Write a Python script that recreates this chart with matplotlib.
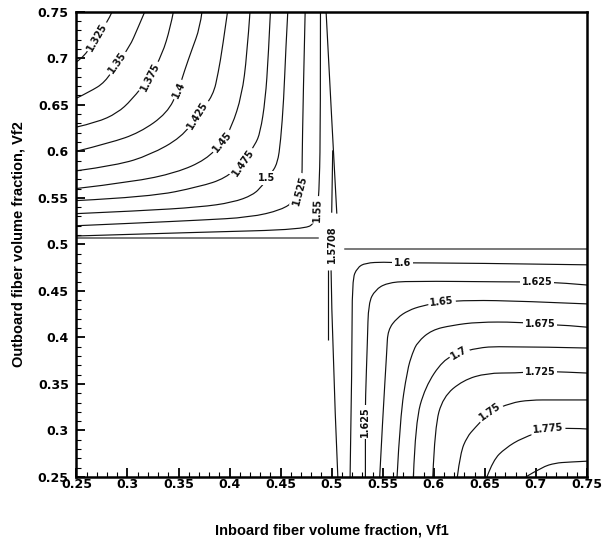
import matplotlib
matplotlib.use("Agg")
import matplotlib.pyplot as plt
from matplotlib.path import Path
from matplotlib.patches import PathPatch
from matplotlib.ticker import FixedLocator, MultipleLocator

plt.rcParams['font.family'] = ['Liberation Sans', 'DejaVu Sans']

# ---------------- data ----------------
# Upper-left region (Vf1 < 0.5, Vf2 > 0.5): iso-lines, data units
c1325_x = [0.250, 0.258, 0.270, 0.280, 0.285]
c1325_y = [0.696, 0.702, 0.723, 0.738, 0.750]
c1350_x = [0.250, 0.263, 0.278, 0.290, 0.302, 0.310, 0.317]
c1350_y = [0.657, 0.664, 0.674, 0.695, 0.712, 0.732, 0.750]
c1375_x = [0.250, 0.270, 0.290, 0.304, 0.322, 0.334, 0.342, 0.345]
c1375_y = [0.626, 0.631, 0.641, 0.655, 0.680, 0.704, 0.733, 0.750]
c1400_x = [0.250, 0.283, 0.312, 0.339, 0.350, 0.356, 0.363, 0.371, 0.373]
c1400_y = [0.600, 0.609, 0.620, 0.641, 0.666, 0.687, 0.709, 0.733, 0.750]
c1425_x = [0.250, 0.290, 0.322, 0.353, 0.369, 0.384, 0.389, 0.393, 0.398]
c1425_y = [0.579, 0.585, 0.596, 0.615, 0.639, 0.660, 0.685, 0.711, 0.750]
c1450_x = [0.250, 0.305, 0.348, 0.377, 0.393, 0.402, 0.412, 0.417, 0.420]
c1450_y = [0.560, 0.567, 0.577, 0.591, 0.610, 0.626, 0.660, 0.703, 0.750]
c1475_x = [0.250, 0.322, 0.371, 0.396, 0.413, 0.425, 0.430, 0.435, 0.438, 0.440]
c1475_y = [0.547, 0.551, 0.562, 0.571, 0.588, 0.607, 0.620, 0.655, 0.703, 0.750]
c1500_x = [0.250, 0.312, 0.371, 0.403, 0.423, 0.432, 0.440, 0.447, 0.450, 0.453, 0.455, 0.457]
c1500_y = [0.533, 0.536, 0.540, 0.545, 0.553, 0.563, 0.575, 0.587, 0.611, 0.655, 0.709, 0.750]
c1525_x = [0.250, 0.312, 0.371, 0.420, 0.451, 0.464, 0.469, 0.471, 0.471, 0.472, 0.474]
c1525_y = [0.520, 0.523, 0.526, 0.529, 0.537, 0.547, 0.558, 0.574, 0.587, 0.655, 0.750]
c1550_x = [0.250, 0.371, 0.474, 0.484, 0.486, 0.488, 0.489, 0.489]
c1550_y = [0.509, 0.513, 0.516, 0.524, 0.537, 0.564, 0.634, 0.750]

# pi/2 (1.5708) boundary pieces
c1571a_x = [0.250, 0.487]
c1571a_y = [0.507, 0.507]
c1571b_x = [0.4945, 0.500, 0.505]
c1571b_y = [0.750, 0.634, 0.533]
c1571c_x = [0.501, 0.500]
c1571c_y = [0.601, 0.534]
c1571d_x = [0.4964, 0.4964]
c1571d_y = [0.472, 0.397]
c1571e_x = [0.4994, 0.5003, 0.506]
c1571e_y = [0.472, 0.397, 0.250]
c1571f_x = [0.513, 0.750]
c1571f_y = [0.495, 0.495]

# Lower-right region (Vf1 > 0.5, Vf2 < 0.5)
c1600_x = [0.518, 0.520, 0.520, 0.525, 0.533, 0.551, 0.569, 0.626, 0.750]
c1600_y = [0.250, 0.381, 0.462, 0.475, 0.480, 0.481, 0.480, 0.480, 0.478]
c1625_x = [0.533, 0.533, 0.533, 0.533, 0.535, 0.536, 0.5425, 0.554, 0.575, 0.675, 0.701, 0.727, 0.750]
c1625_y = [0.250, 0.282, 0.309, 0.333, 0.397, 0.437, 0.451, 0.4585, 0.4606, 0.4596, 0.4596, 0.4585, 0.4563]
c1650_x = [0.547, 0.550, 0.554, 0.555, 0.564, 0.575, 0.5885, 0.608, 0.635, 0.6865, 0.750]
c1650_y = [0.250, 0.314, 0.3865, 0.408, 0.421, 0.429, 0.434, 0.438, 0.440, 0.439, 0.436]
c1675_x = [0.564, 0.567, 0.574, 0.579, 0.584, 0.598, 0.618, 0.643, 0.682, 0.704, 0.731, 0.750]
c1675_y = [0.250, 0.314, 0.365, 0.383, 0.395, 0.408, 0.413, 0.4165, 0.4165, 0.414, 0.413, 0.411]
c1700_x = [0.580, 0.582, 0.5915, 0.609, 0.625, 0.642, 0.665, 0.750]
c1700_y = [0.250, 0.309, 0.3467, 0.3757, 0.3832, 0.3886, 0.3907, 0.3886]
c1725_x = [0.599, 0.601, 0.609, 0.6286, 0.652, 0.680, 0.704, 0.729, 0.750]
c1725_y = [0.250, 0.304, 0.336, 0.354, 0.3617, 0.3617, 0.3635, 0.3628, 0.3617]
c1750_x = [0.623, 0.626, 0.6325, 0.640, 0.655, 0.675, 0.694, 0.719, 0.750]
c1750_y = [0.250, 0.276, 0.293, 0.3026, 0.320, 0.3295, 0.3328, 0.3328, 0.3328]
c1775_x = [0.652, 0.658, 0.670, 0.6865, 0.712, 0.736, 0.750]
c1775_y = [0.250, 0.268, 0.281, 0.292, 0.3016, 0.3026, 0.3016]
c1800_x = [0.690, 0.706, 0.719, 0.7315, 0.750]
c1800_y = [0.250, 0.2607, 0.265, 0.266, 0.267]

# contour labels
label_text = ['1.325', '1.35', '1.375', '1.4', '1.425', '1.45', '1.475', '1.5', '1.525', '1.55',
              '1.5708', '1.6', '1.625', '1.625', '1.65', '1.675', '1.7', '1.725', '1.75', '1.775']
label_x = [0.270, 0.290, 0.322, 0.350, 0.369, 0.393, 0.413, 0.436, 0.469, 0.486,
           0.500, 0.569, 0.701, 0.533, 0.608, 0.704, 0.625, 0.704, 0.655, 0.712]
label_y = [0.723, 0.695, 0.680, 0.666, 0.639, 0.610, 0.588, 0.571, 0.558, 0.537,
           0.500, 0.480, 0.460, 0.309, 0.438, 0.414, 0.383, 0.363, 0.320, 0.3016]
label_rot = [60, 55, 63, 65, 58, 50, 55, 0, 75, 88,
             90, 0, 0, 90, 6, 0, 30, 0, 35, 5]

# axis ticks
tick_values = [0.25, 0.30, 0.35, 0.40, 0.45, 0.50, 0.55, 0.60, 0.65, 0.70, 0.75]
tick_labels = ['0.25', '0.3', '0.35', '0.4', '0.45', '0.5', '0.55', '0.6', '0.65', '0.7', '0.75']

x_label = 'Inboard fiber volume fraction, Vf1'
y_label = 'Outboard fiber volume fraction, Vf2'


def smooth_path(xs, ys):
    """Quadratic-Bezier rendering through the read vertices (rounded corners)."""
    pts = list(zip(xs, ys))
    if len(pts) < 3:
        return Path(pts, [Path.MOVETO] + [Path.LINETO] * (len(pts) - 1))
    verts = [pts[0]]
    codes = [Path.MOVETO]
    for i in range(1, len(pts) - 1):
        p, q = pts[i], pts[i + 1]
        end = q if i == len(pts) - 2 else ((p[0] + q[0]) / 2, (p[1] + q[1]) / 2)
        verts += [p, end]
        codes += [Path.CURVE3, Path.CURVE3]
    return Path(verts, codes)


# ---------------- drawing ----------------
fig = plt.figure(figsize=(6.02, 5.41), dpi=100)
ax = fig.add_axes([0.1269, 0.1183, 0.8482, 0.8601])

main_lines = [
    (c1325_x, c1325_y), (c1350_x, c1350_y), (c1375_x, c1375_y), (c1400_x, c1400_y),
    (c1425_x, c1425_y), (c1450_x, c1450_y), (c1475_x, c1475_y), (c1500_x, c1500_y),
    (c1525_x, c1525_y), (c1550_x, c1550_y),
    (c1600_x, c1600_y), (c1625_x, c1625_y), (c1650_x, c1650_y), (c1675_x, c1675_y),
    (c1700_x, c1700_y), (c1725_x, c1725_y), (c1750_x, c1750_y), (c1775_x, c1775_y),
    (c1800_x, c1800_y),
    (c1571b_x, c1571b_y), (c1571c_x, c1571c_y), (c1571d_x, c1571d_y), (c1571e_x, c1571e_y),
]
for xs, ys in main_lines:
    ax.add_patch(PathPatch(smooth_path(xs, ys), fill=False, edgecolor='#111111',
                           lw=0.85, joinstyle='round', capstyle='butt', zorder=2))

for xs, ys in [(c1571a_x, c1571a_y), (c1571f_x, c1571f_y)]:
    ax.plot(xs, ys, color='#555555', lw=1.1, zorder=2)

for t, x, y, r in zip(label_text, label_x, label_y, label_rot):
    ax.text(x, y, t, rotation=r, rotation_mode='anchor', ha='center', va='center',
            fontsize=7, fontweight='bold', family='DejaVu Sans', color='#111111',
            bbox=dict(facecolor='white', edgecolor='none', pad=1.3), zorder=3)

ax.set_xlim(0.25, 0.75)
ax.set_ylim(0.25, 0.75)
ax.xaxis.set_major_locator(FixedLocator(tick_values))
ax.yaxis.set_major_locator(FixedLocator(tick_values))
ax.set_xticklabels(tick_labels)
ax.set_yticklabels(tick_labels)
ax.xaxis.set_minor_locator(MultipleLocator(0.01))
ax.yaxis.set_minor_locator(MultipleLocator(0.01))

ax.tick_params(which='both', direction='in', top=False, right=False, color='black')
ax.tick_params(which='major', length=6.5, width=1.3)
ax.tick_params(which='minor', length=3.8, width=0.8)
ax.tick_params(axis='x', which='major', pad=1.0)
ax.tick_params(axis='y', which='major', pad=5.5)
for lab in ax.get_xticklabels() + ax.get_yticklabels():
    lab.set_fontfamily('DejaVu Sans')
    lab.set_fontweight('bold')
    lab.set_fontsize(9)

for s in ax.spines.values():
    s.set_linewidth(1.8)
    s.set_zorder(4)

ax.set_xlabel(x_label, fontsize=10.5, fontweight='bold')
ax.set_ylabel(y_label, fontsize=10.5, fontweight='bold')
ax.xaxis.set_label_coords(0.5, -0.116)
ax.xaxis.label.set_verticalalignment('center')
ax.yaxis.set_label_coords(-0.114, 0.5)
ax.yaxis.label.set_verticalalignment('center')

fig.savefig('out.png', dpi=100, facecolor='white')
